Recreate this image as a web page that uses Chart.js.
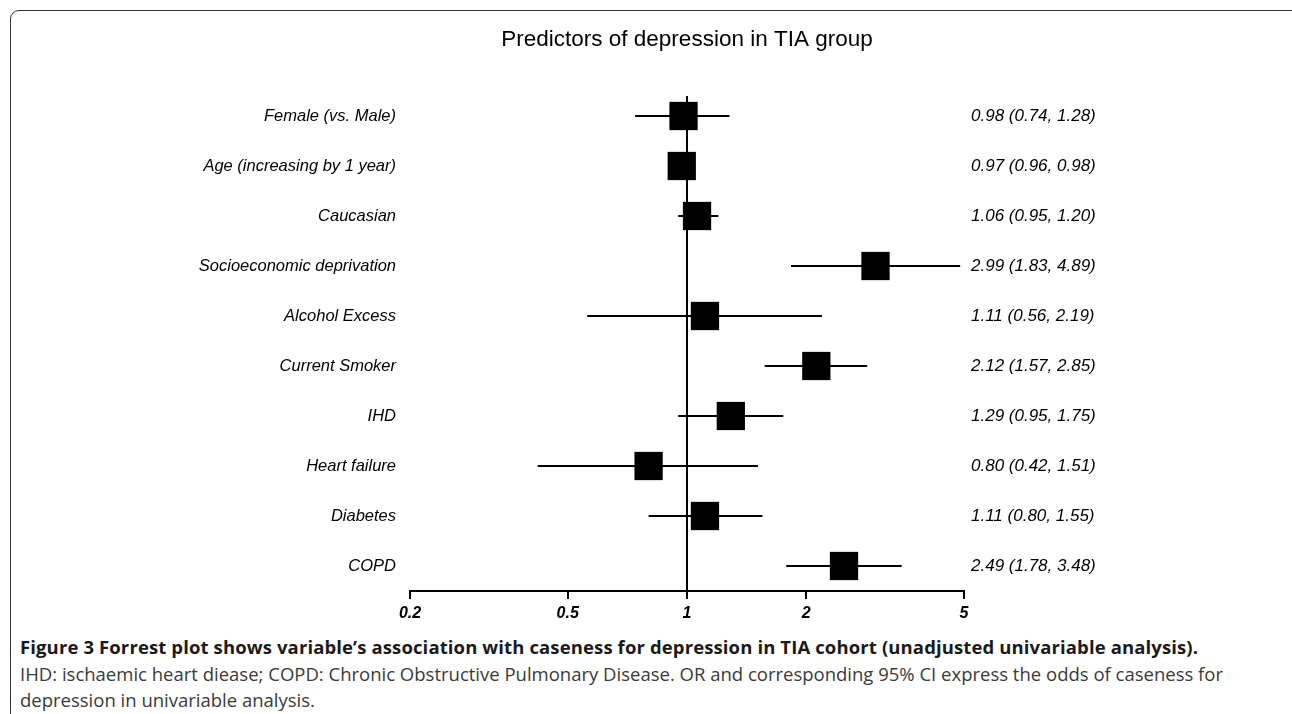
<!DOCTYPE html>
<html>
<head>
<meta charset="utf-8">
<script src="https://cdn.jsdelivr.net/npm/chart.js@4.4.1/dist/chart.umd.min.js"></script>
<style>
  html, body { margin: 0; padding: 0; background: #fff; width: 1292px; height: 714px; overflow: hidden; }
  #frame { position: absolute; left: 10px; top: 10px; width: 1300px; height: 800px; border: 1.5px solid #333; border-radius: 9px; box-sizing: border-box; }
  #wrap { position: absolute; left: 0; top: 0; width: 1292px; height: 625px; }
  #caption { position: absolute; left: 20px; top: 634px; font-family: "Open Sans", Lato, sans-serif; font-size: 18.5px; line-height: 26.5px; color: #3a3a3a; white-space: nowrap; }
  #caption b { color: #1a1a1a; letter-spacing: 0.12px; }
</style>
</head>
<body>
<div id="frame"></div>
<div id="wrap"><canvas id="forest"></canvas></div>
<div id="caption"><b>Figure 3 Forrest plot shows variable’s association with caseness for depression in TIA cohort (unadjusted univariable analysis).</b><br>IHD: ischaemic heart diease; COPD: Chronic Obstructive Pulmonary Disease. OR and corresponding 95% CI express the odds of caseness for<br>depression in univariable analysis.</div>
<script>
// ---- data ----
const chartTitle = "Predictors of depression in TIA group";
const predictors = [
  "Female (vs. Male)",
  "Age (increasing by 1 year)",
  "Caucasian",
  "Socioeconomic deprivation",
  "Alcohol Excess",
  "Current Smoker",
  "IHD",
  "Heart failure",
  "Diabetes",
  "COPD"
];
const oddsRatio = [0.98, 0.97, 1.06, 2.99, 1.11, 2.12, 1.29, 0.80, 1.11, 2.49];
const ciLower   = [0.74, 0.96, 0.95, 1.83, 0.56, 1.57, 0.95, 0.42, 0.80, 1.78];
const ciUpper   = [1.28, 0.98, 1.20, 4.89, 2.19, 2.85, 1.75, 1.51, 1.55, 3.48];
const xTicks = [0.2, 0.5, 1, 2, 5];

const valueLabels = oddsRatio.map((v, i) =>
  `${v.toFixed(2)} (${ciLower[i].toFixed(2)}, ${ciUpper[i].toFixed(2)})`);

Chart.defaults.font.family = "'Liberation Sans', Arial, sans-serif";
Chart.defaults.color = "#000";

const rowTicks = scale => { scale.ticks = predictors.map((_, i) => ({ value: i })); };

// one line per confidence interval
const ciSets = predictors.map((p, i) => ({
  label: p,
  data: [{ x: ciLower[i], y: i }, { x: ciUpper[i], y: i }],
  showLine: true,
  borderColor: "#000",
  borderWidth: 2,
  pointRadius: 0,
  order: 2
}));

new Chart(document.getElementById("forest"), {
  type: "scatter",
  data: {
    datasets: [
      {
        label: "OR",
        data: oddsRatio.map((v, i) => ({ x: v, y: i })),
        pointStyle: "rect",
        pointRadius: 20,
        backgroundColor: "#000",
        borderWidth: 0,
        order: 0
      },
      ...ciSets,
      {
        label: "no effect",
        data: [{ x: 1, y: -0.4 }, { x: 1, y: predictors.length - 0.5 }],
        showLine: true,
        borderColor: "#000",
        borderWidth: 2,
        pointRadius: 0,
        order: 3
      }
    ]
  },
  options: {
    responsive: true,
    maintainAspectRatio: false,
    animation: false,
    layout: { padding: 0 },
    plugins: {
      legend: { display: false },
      tooltip: { enabled: false },
      title: {
        display: true,
        text: chartTitle,
        fullSize: false,
        font: { size: 22.5, weight: "normal" },
        padding: { top: 26.5, bottom: 37.5 }
      }
    },
    scales: {
      x: {
        type: "logarithmic",
        min: 0.2,
        max: 5,
        afterBuildTicks: s => { s.ticks = xTicks.map(v => ({ value: v })); },
        afterFit: s => { s.height = 34; },
        ticks: {
          autoSkip: false,
          maxRotation: 0,
          padding: 5,
          font: { size: 16, style: "italic", weight: "bold" },
          callback: v => String(v)
        },
        grid: { drawOnChartArea: false, drawTicks: true, tickLength: 8, color: "#000", lineWidth: 2 },
        border: { display: true, color: "#000", width: 2 }
      },
      y: {
        type: "linear",
        position: "left",
        reverse: true,
        min: -0.5,
        max: predictors.length - 0.5,
        afterBuildTicks: rowTicks,
        afterFit: s => { s.width = 410; },
        ticks: {
          autoSkip: false,
          padding: 14,
          font: { size: 16.5, style: "italic" },
          callback: v => predictors[v]
        },
        grid: { display: false, drawTicks: false },
        border: { display: false }
      },
      y2: {
        type: "linear",
        position: "right",
        reverse: true,
        min: -0.5,
        max: predictors.length - 0.5,
        afterBuildTicks: rowTicks,
        afterFit: s => { s.width = 328; },
        ticks: {
          autoSkip: false,
          padding: 7,
          font: { size: 17, style: "italic" },
          callback: v => valueLabels[v]
        },
        grid: { display: false, drawTicks: false },
        border: { display: false }
      }
    }
  }
});
</script>
</body>
</html>
